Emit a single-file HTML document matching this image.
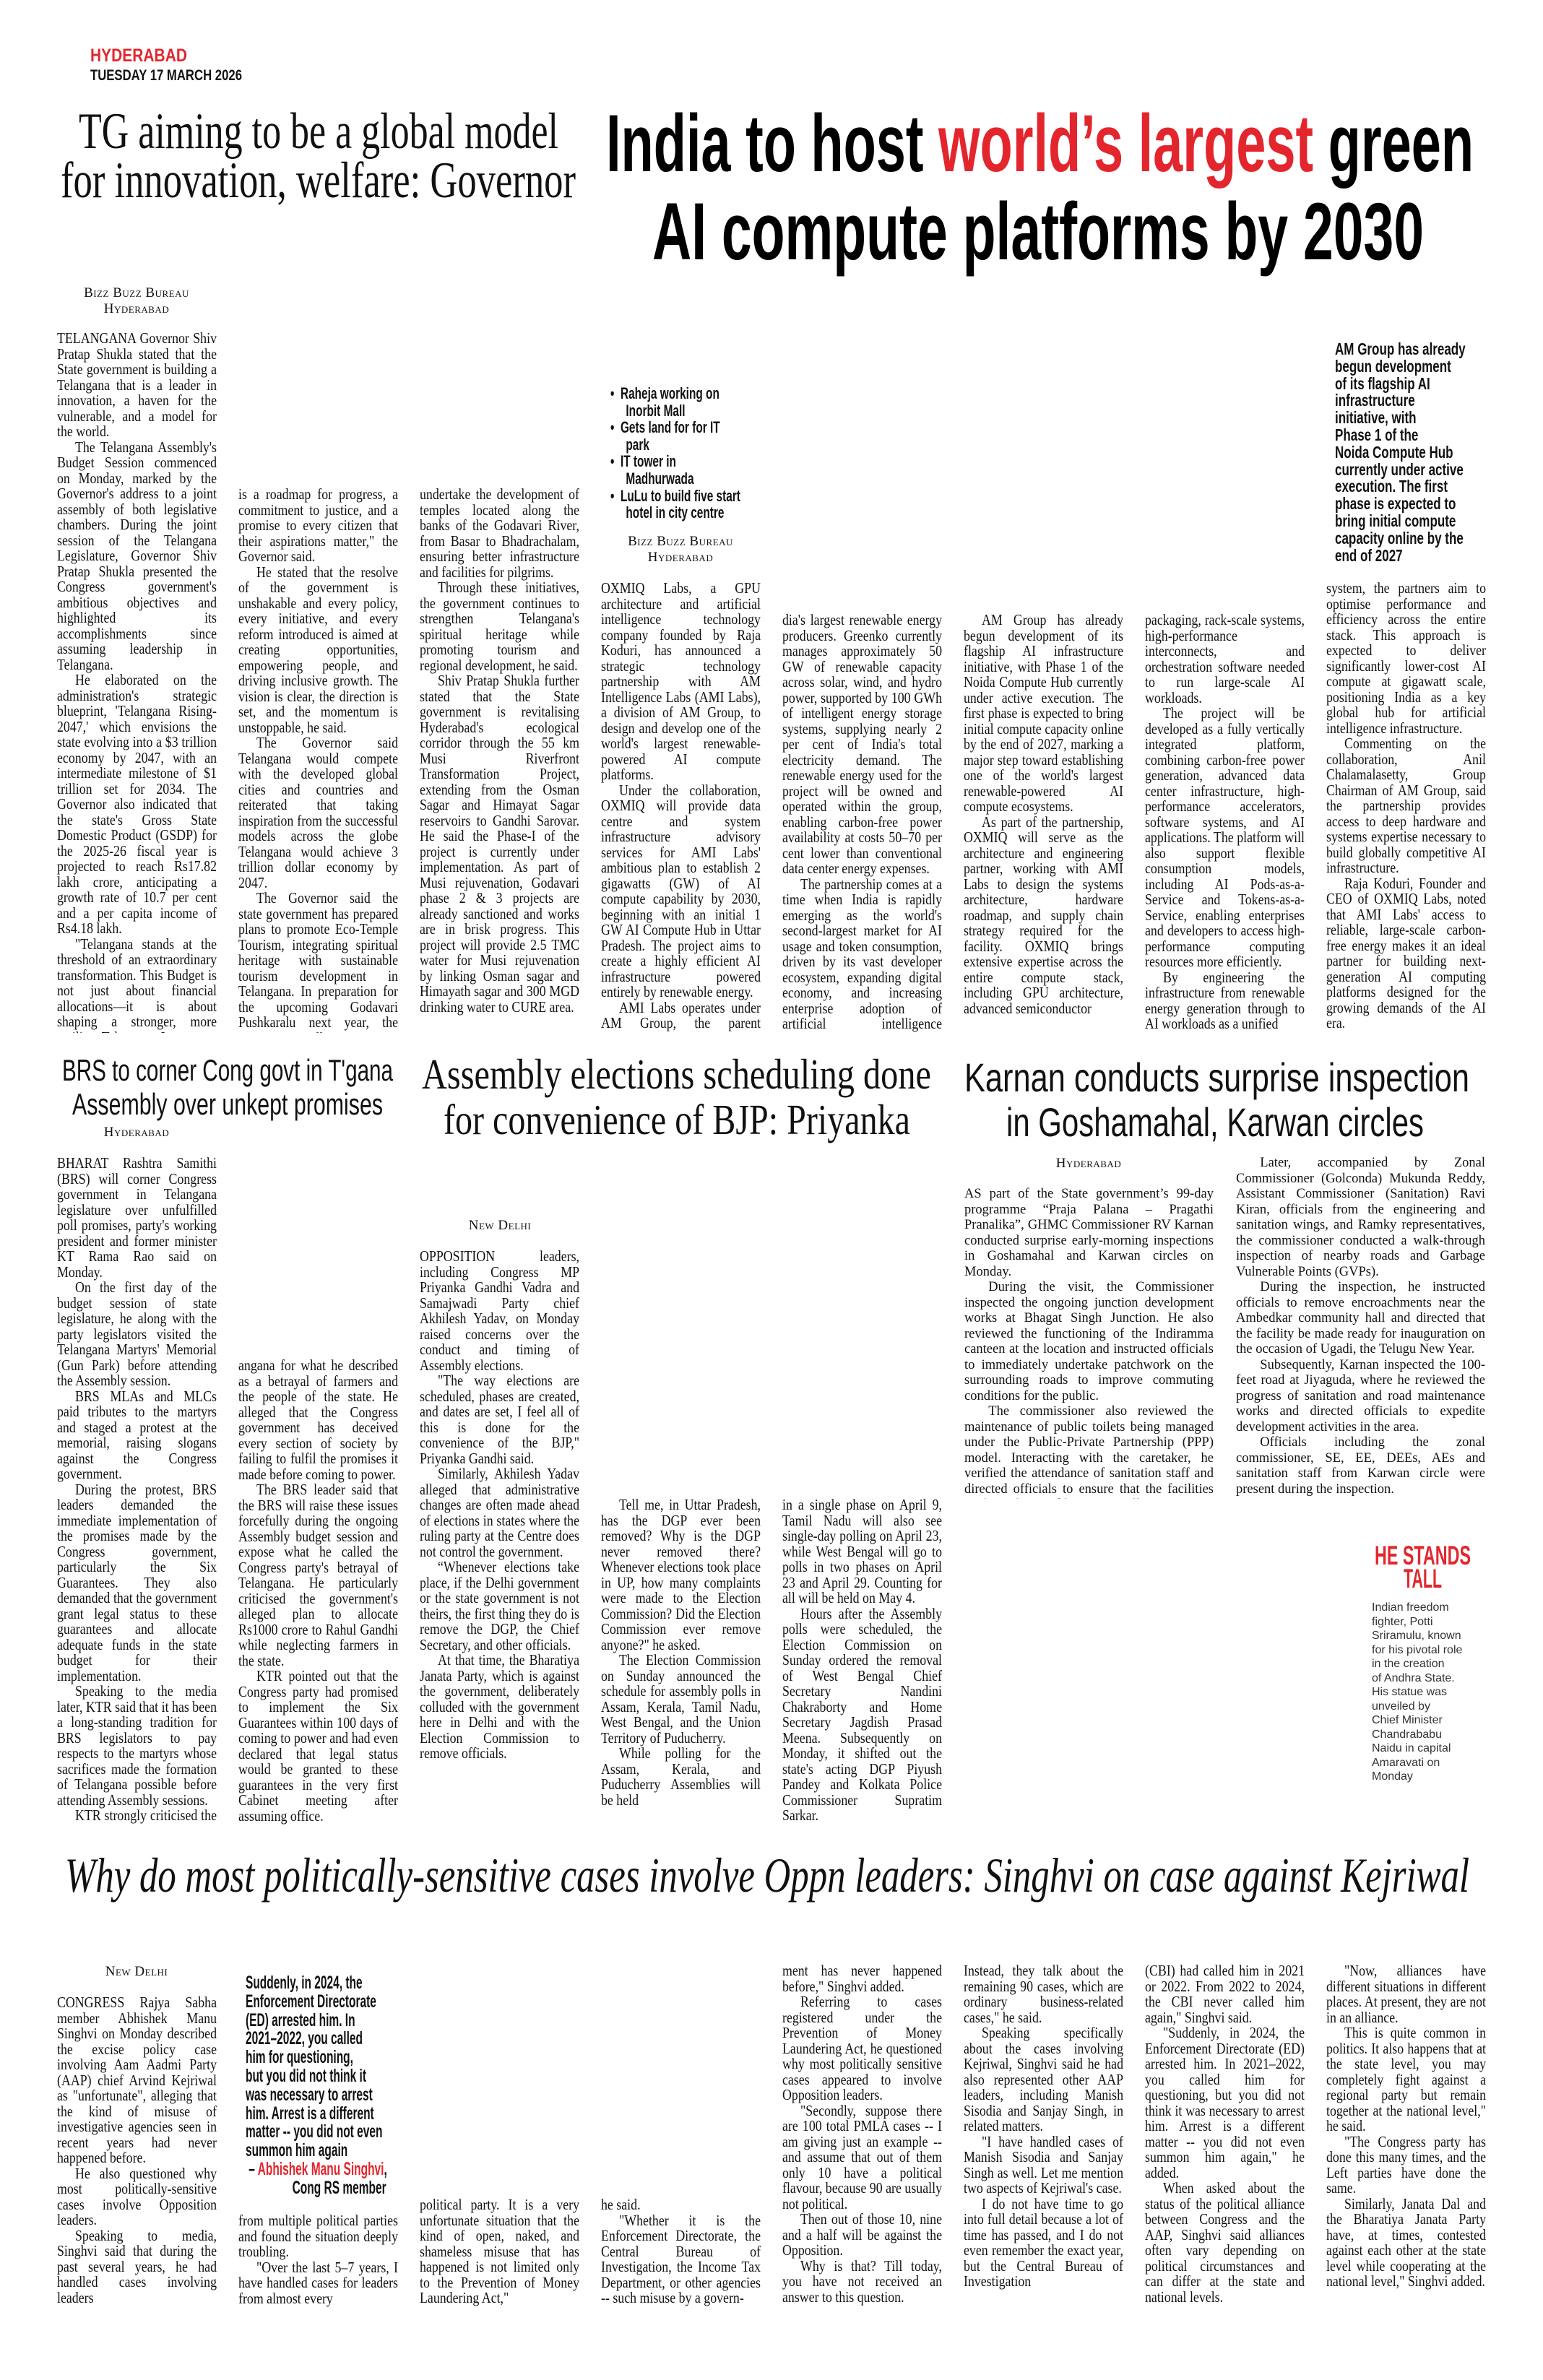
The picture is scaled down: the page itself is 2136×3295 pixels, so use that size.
<!DOCTYPE html>
<html lang="en"><head><meta charset="utf-8">
<style>
*{margin:0;padding:0;box-sizing:border-box}
body{width:2136px;height:3295px;background:#fff;position:relative;overflow:hidden;font-family:"Liberation Serif",serif;color:#111}
.c{position:absolute;width:260px;font-size:21px;line-height:21.5px;text-align:justify;hyphens:auto;overflow:hidden;transform:scaleX(.85);transform-origin:0 0}
.c p{text-indent:1.4em}
.c p.f{text-indent:0}
.k{position:absolute;width:345px;font-size:18.5px;line-height:21.5px;text-align:justify;hyphens:auto;overflow:hidden}
.k p{text-indent:1.8em}
.k p.f{text-indent:0}
.by{position:absolute;font-variant:small-caps;font-size:19px;line-height:22px;text-align:center;letter-spacing:.5px}
.cond{position:absolute;transform-origin:0 0;white-space:nowrap;font-family:"Liberation Sans",sans-serif;font-weight:bold}
svg{position:absolute;left:0;top:0}
</style></head><body>

<svg width="2136" height="3295">
<text x="125" y="85" font-family="Liberation Sans" font-weight="bold" font-size="25" fill="#e3262d" textLength="134" lengthAdjust="spacingAndGlyphs">HYDERABAD</text>
<text x="125" y="111" font-family="Liberation Sans" font-weight="bold" font-size="21" fill="#111" textLength="210" lengthAdjust="spacingAndGlyphs">TUESDAY 17  MARCH 2026</text>
<text x="109" y="205" font-family="Liberation Serif" font-size="71" fill="#111" textLength="664" lengthAdjust="spacingAndGlyphs">TG aiming to be a global model</text>
<text x="84" y="273" font-family="Liberation Serif" font-size="71" fill="#111" textLength="713" lengthAdjust="spacingAndGlyphs">for innovation, welfare: Governor</text>
<text x="839" y="237" font-family="Liberation Sans" font-weight="bold" font-size="112" fill="#000" textLength="1201" lengthAdjust="spacingAndGlyphs">India to host <tspan fill="#e3262d">world’s largest</tspan> green</text>
<text x="903" y="359" font-family="Liberation Sans" font-weight="bold" font-size="112" fill="#000" textLength="1068" lengthAdjust="spacingAndGlyphs">AI compute platforms by 2030</text>
<text x="86" y="1496" font-family="Liberation Sans" font-size="42" fill="#111" textLength="458" lengthAdjust="spacingAndGlyphs">BRS to corner Cong govt in T'gana</text>
<text x="100" y="1543" font-family="Liberation Sans" font-size="42" fill="#111" textLength="430" lengthAdjust="spacingAndGlyphs">Assembly over unkept promises</text>
<text x="584" y="1507" font-family="Liberation Serif" font-size="59" fill="#111" textLength="705" lengthAdjust="spacingAndGlyphs">Assembly elections scheduling done</text>
<text x="614" y="1570" font-family="Liberation Serif" font-size="59" fill="#111" textLength="646" lengthAdjust="spacingAndGlyphs">for convenience of BJP: Priyanka</text>
<text x="1335" y="1511" font-family="Liberation Sans" font-size="56" fill="#111" textLength="699" lengthAdjust="spacingAndGlyphs">Karnan conducts surprise inspection</text>
<text x="1393" y="1573" font-family="Liberation Sans" font-size="56" fill="#111" textLength="578" lengthAdjust="spacingAndGlyphs">in Goshamahal, Karwan circles</text>
<text x="1903" y="2166" font-family="Liberation Sans" font-weight="bold" font-size="37" fill="#e3262d" textLength="133" lengthAdjust="spacingAndGlyphs">HE STANDS</text>
<text x="1943" y="2198" font-family="Liberation Sans" font-weight="bold" font-size="37" fill="#e3262d" textLength="53" lengthAdjust="spacingAndGlyphs">TALL</text>
<text x="90" y="2619" font-family="Liberation Serif" font-style="italic" font-size="68" fill="#111" textLength="1944" lengthAdjust="spacingAndGlyphs">Why do most politically-sensitive cases involve Oppn leaders: Singhvi on case against Kejriwal</text>
</svg>

<div class="by" style="left:89px;top:395px;width:200px">Bizz Buzz Bureau<br>Hyderabad</div>
<div class="by" style="left:842px;top:739px;width:200px">Bizz Buzz Bureau<br>Hyderabad</div>
<div class="by" style="left:89px;top:1557px;width:200px">Hyderabad</div>
<div class="by" style="left:592px;top:1686px;width:200px">New Delhi</div>
<div class="by" style="left:1407px;top:1600px;width:200px">Hyderabad</div>
<div class="by" style="left:89px;top:2719px;width:200px">New Delhi</div>

<div class="cond" style="left:845px;top:533px;font-size:22px;line-height:23.6px;transform:scaleX(.7)">
•&nbsp;&nbsp;Raheja working on<br>&nbsp;&nbsp;&nbsp;&nbsp;&nbsp;Inorbit Mall<br>•&nbsp;&nbsp;Gets land for for IT<br>&nbsp;&nbsp;&nbsp;&nbsp;&nbsp;park<br>•&nbsp;&nbsp;IT tower in<br>&nbsp;&nbsp;&nbsp;&nbsp;&nbsp;Madhurwada<br>•&nbsp;&nbsp;LuLu to build five start<br>&nbsp;&nbsp;&nbsp;&nbsp;&nbsp;hotel in city centre</div>

<div class="cond" style="left:1848px;top:472px;font-size:23px;line-height:23.8px;transform:scaleX(.74)">
AM Group has already<br>begun development<br>of its flagship AI<br>infrastructure<br>initiative, with<br>Phase 1 of the<br>Noida Compute Hub<br>currently under active<br>execution. The first<br>phase is expected to<br>bring initial compute<br>capacity online by the<br>end of 2027</div>

<div class="c" style="left:79px;top:458px;height:972px">
<p class="f">TELANGANA Governor Shiv Pratap Shukla stated that the State government is building a Telangana that is a leader in innovation, a haven for the vulnerable, and a model for the world.</p>
<p>The Telangana Assembly's Budget Session commenced on Monday, marked by the Governor's address to a joint assembly of both legislative chambers. During the joint session of the Telangana Legislature, Governor Shiv Pratap Shukla presented the Congress government's ambitious objectives and highlighted its accomplishments since assuming leadership in Telangana.</p>
<p>He elaborated on the administration's strategic blueprint, 'Telangana Rising-2047,' which envisions the state evolving into a $3 trillion economy by 2047, with an intermediate milestone of $1 trillion set for 2034. The Governor also indicated that the state's Gross State Domestic Product (GSDP) for the 2025-26 fiscal year is projected to reach Rs17.82 lakh crore, anticipating a growth rate of 10.7 per cent and a per capita income of Rs4.18 lakh.</p>
<p>"Telangana stands at the threshold of an extraordinary transformation. This Budget is not just about financial allocations—it is about shaping a stronger, more resilient Telangana. It</p>
</div>
<div class="c" style="left:330px;top:674px;height:756px">
<p class="f">is a roadmap for progress, a commitment to justice, and a promise to every citizen that their aspirations matter," the Governor said.</p>
<p>He stated that the resolve of the government is unshakable and every policy, every initiative, and every reform introduced is aimed at creating opportunities, empowering people, and driving inclusive growth. The vision is clear, the direction is set, and the momentum is unstoppable, he said.</p>
<p>The Governor said Telangana would compete with the developed global cities and countries and reiterated that taking inspiration from the successful models across the globe Telangana would achieve 3 trillion dollar economy by 2047.</p>
<p>The Governor said the state government has prepared plans to promote Eco-Temple Tourism, integrating spiritual heritage with sustainable tourism development in Telangana. In preparation for the upcoming Godavari Pushkaralu next year, the government will</p>
</div>
<div class="c" style="left:581px;top:674px;height:756px">
<p class="f">undertake the development of temples located along the banks of the Godavari River, from Basar to Bhadrachalam, ensuring better infrastructure and facilities for pilgrims.</p>
<p>Through these initiatives, the government continues to strengthen Telangana's spiritual heritage while promoting tourism and regional development, he said.</p>
<p>Shiv Pratap Shukla further stated that the State government is revitalising Hyderabad's ecological corridor through the 55 km Musi Riverfront Transformation Project, extending from the Osman Sagar and Himayat Sagar reservoirs to Gandhi Sarovar. He said the Phase-I of the project is currently under implementation. As part of Musi rejuvenation, Godavari phase 2 &amp; 3 projects are already sanctioned and works are in brisk progress. This project will provide 2.5 TMC water for Musi rejuvenation by linking Osman sagar and Himayath sagar and 300 MGD drinking water to CURE area.</p>
</div>

<div class="c" style="left:832px;top:804px;height:626px">
<p class="f">OXMIQ Labs, a GPU architecture and artificial intelligence technology company founded by Raja Koduri, has announced a strategic technology partnership with AM Intelligence Labs (AMI Labs), a division of AM Group, to design and develop one of the world's largest renewable-powered AI compute platforms.</p>
<p>Under the collaboration, OXMIQ will provide data centre and system infrastructure advisory services for AMI Labs' ambitious plan to establish 2 gigawatts (GW) of AI compute capability by 2030, beginning with an initial 1 GW AI Compute Hub in Uttar Pradesh. The project aims to create a highly efficient AI infrastructure powered entirely by renewable energy.</p>
<p>AMI Labs operates under AM Group, the parent company of Greenko, one of In-</p>
</div>
<div class="c" style="left:1083px;top:848px;height:582px">
<p class="f">dia's largest renewable energy producers. Greenko currently manages approximately 50 GW of renewable capacity across solar, wind, and hydro power, supported by 100 GWh of intelligent energy storage systems, supplying nearly 2 per cent of India's total electricity demand. The renewable energy used for the project will be owned and operated within the group, enabling carbon-free power availability at costs 50–70 per cent lower than conventional data center energy expenses.</p>
<p>The partnership comes at a time when India is rapidly emerging as the world's second-largest market for AI usage and token consumption, driven by its vast developer ecosystem, expanding digital economy, and increasing enterprise adoption of artificial intelligence technologies.</p>
</div>
<div class="c" style="left:1334px;top:848px;height:582px">
<p>AM Group has already begun development of its flagship AI infrastructure initiative, with Phase 1 of the Noida Compute Hub currently under active execution. The first phase is expected to bring initial compute capacity online by the end of 2027, marking a major step toward establishing one of the world's largest renewable-powered AI compute ecosystems.</p>
<p>As part of the partnership, OXMIQ will serve as the architecture and engineering partner, working with AMI Labs to design the systems architecture, hardware roadmap, and supply chain strategy required for the facility. OXMIQ brings extensive expertise across the entire compute stack, including GPU architecture, advanced semiconductor</p>
</div>
<div class="c" style="left:1585px;top:848px;height:582px">
<p class="f">packaging, rack-scale systems, high-performance interconnects, and orchestration software needed to run large-scale AI workloads.</p>
<p>The project will be developed as a fully vertically integrated platform, combining carbon-free power generation, advanced data center infrastructure, high-performance accelerators, software systems, and AI applications. The platform will also support flexible consumption models, including AI Pods-as-a-Service and Tokens-as-a-Service, enabling enterprises and developers to access high-performance computing resources more efficiently.</p>
<p>By engineering the infrastructure from renewable energy generation through to AI workloads as a unified</p>
</div>
<div class="c" style="left:1836px;top:804px;height:626px">
<p class="f">system, the partners aim to optimise performance and efficiency across the entire stack. This approach is expected to deliver significantly lower-cost AI compute at gigawatt scale, positioning India as a key global hub for artificial intelligence infrastructure.</p>
<p>Commenting on the collaboration, Anil Chalamalasetty, Group Chairman of AM Group, said the partnership provides access to deep hardware and systems expertise necessary to build globally competitive AI infrastructure.</p>
<p>Raja Koduri, Founder and CEO of OXMIQ Labs, noted that AMI Labs' access to reliable, large-scale carbon-free energy makes it an ideal partner for building next-generation AI computing platforms designed for the growing demands of the AI era.</p>
</div>

<div class="c" style="left:79px;top:1600px;height:927px">
<p class="f">BHARAT Rashtra Samithi (BRS) will corner Congress government in Telangana legislature over unfulfilled poll promises, party's working president and former minister KT Rama Rao said on Monday.</p>
<p>On the first day of the budget session of state legislature, he along with the party legislators visited the Telangana Martyrs' Memorial (Gun Park) before attending the Assembly session.</p>
<p>BRS MLAs and MLCs paid tributes to the martyrs and staged a protest at the memorial, raising slogans against the Congress government.</p>
<p>During the protest, BRS leaders demanded the immediate implementation of the promises made by the Congress government, particularly the Six Guarantees. They also demanded that the government grant legal status to these guarantees and allocate adequate funds in the state budget for their implementation.</p>
<p>Speaking to the media later, KTR said that it has been a long-standing tradition for BRS legislators to pay respects to the martyrs whose sacrifices made the formation of Telangana possible before attending Assembly sessions.</p>
<p>KTR strongly criticised the Congress government in Tel-</p>
</div>
<div class="c" style="left:330px;top:1880px;height:647px">
<p class="f">angana for what he described as a betrayal of farmers and the people of the state. He alleged that the Congress government has deceived every section of society by failing to fulfil the promises it made before coming to power.</p>
<p>The BRS leader said that the BRS will raise these issues forcefully during the ongoing Assembly budget session and expose what he called the Congress party's betrayal of Telangana. He particularly criticised the government's alleged plan to allocate Rs1000 crore to Rahul Gandhi while neglecting farmers in the state.</p>
<p>KTR pointed out that the Congress party had promised to implement the Six Guarantees within 100 days of coming to power and had even declared that legal status would be granted to these guarantees in the very first Cabinet meeting after assuming office.</p>
</div>

<div class="c" style="left:581px;top:1729px;height:798px">
<p class="f">OPPOSITION leaders, including Congress MP Priyanka Gandhi Vadra and Samajwadi Party chief Akhilesh Yadav, on Monday raised concerns over the conduct and timing of Assembly elections.</p>
<p>"The way elections are scheduled, phases are created, and dates are set, I feel all of this is done for the convenience of the BJP," Priyanka Gandhi said.</p>
<p>Similarly, Akhilesh Yadav alleged that administrative changes are often made ahead of elections in states where the ruling party at the Centre does not control the government.</p>
<p>“Whenever elections take place, if the Delhi government or the state government is not theirs, the first thing they do is remove the DGP, the Chief Secretary, and other officials.</p>
<p>At that time, the Bharatiya Janata Party, which is against the government, deliberately colluded with the government here in Delhi and with the Election Commission to remove officials.</p>
</div>
<div class="c" style="left:832px;top:2073px;height:454px">
<p>Tell me, in Uttar Pradesh, has the DGP ever been removed? Why is the DGP never removed there? Whenever elections took place in UP, how many complaints were made to the Election Commission? Did the Election Commission ever remove anyone?" he asked.</p>
<p>The Election Commission on Sunday announced the schedule for assembly polls in Assam, Kerala, Tamil Nadu, West Bengal, and the Union Territory of Puducherry.</p>
<p>While polling for the Assam, Kerala, and Puducherry Assemblies will be held</p>
</div>
<div class="c" style="left:1083px;top:2073px;height:454px">
<p class="f">in a single phase on April 9, Tamil Nadu will also see single-day polling on April 23, while West Bengal will go to polls in two phases on April 23 and April 29. Counting for all will be held on May 4.</p>
<p>Hours after the Assembly polls were scheduled, the Election Commission on Sunday ordered the removal of West Bengal Chief Secretary Nandini Chakraborty and Home Secretary Jagdish Prasad Meena. Subsequently on Monday, it shifted out the state's acting DGP Piyush Pandey and Kolkata Police Commissioner Supratim Sarkar.</p>
</div>

<div class="k" style="left:1335px;top:1643px;height:432px">
<p class="f">AS part of the State government’s 99-day programme “Praja Palana – Pragathi Pranalika”, GHMC Commissioner RV Karnan conducted surprise early-morning inspections in Goshamahal and Karwan circles on Monday.</p>
<p>During the visit, the Commissioner inspected the ongoing junction development works at Bhagat Singh Junction. He also reviewed the functioning of the Indiramma canteen at the location and instructed officials to immediately undertake patchwork on the surrounding roads to improve commuting conditions for the public.</p>
<p>The commissioner also reviewed the maintenance of public toilets being managed under the Public-Private Partnership (PPP) model. Interacting with the caretaker, he verified the attendance of sanitation staff and directed officials to ensure that the facilities are kept clean and hygienic at all times.</p>
</div>
<div class="k" style="left:1711px;top:1600px;height:475px">
<p>Later, accompanied by Zonal Commissioner (Golconda) Mukunda Reddy, Assistant Commissioner (Sanitation) Ravi Kiran, officials from the engineering and sanitation wings, and Ramky representatives, the commissioner conducted a walk-through inspection of nearby roads and Garbage Vulnerable Points (GVPs).</p>
<p>During the inspection, he instructed officials to remove encroachments near the Ambedkar community hall and directed that the facility be made ready for inauguration on the occasion of Ugadi, the Telugu New Year.</p>
<p>Subsequently, Karnan inspected the 100-feet road at Jiyaguda, where he reviewed the progress of sanitation and road maintenance works and directed officials to expedite development activities in the area.</p>
<p>Officials including the zonal commissioner, SE, EE, DEEs, AEs and sanitation staff from Karwan circle were present during the inspection.</p>
</div>
<div style="position:absolute;left:1899px;top:2216px;width:160px;font-family:'Liberation Sans',sans-serif;font-size:16px;line-height:19.5px;color:#333">Indian freedom<br>fighter, Potti<br>Sriramulu, known<br>for his pivotal role<br>in the creation<br>of Andhra State.<br>His statue was<br>unveiled by<br>Chief Minister<br>Chandrababu<br>Naidu in capital<br>Amaravati on<br>Monday</div>

<div class="cond" style="left:340px;top:2733px;font-size:25px;line-height:25.8px;transform:scaleX(.62)">
Suddenly, in 2024, the<br>Enforcement Directorate<br>(ED) arrested him. In<br>2021–2022, you called<br>him for questioning,<br>but you did not think it<br>was necessary to arrest<br>him. Arrest is a different<br>matter -- you did not even<br>summon him again<br>&nbsp;– <span style="color:#e3262d">Abhishek Manu Singhvi</span>,<br>&nbsp;&nbsp;&nbsp;&nbsp;&nbsp;&nbsp;&nbsp;&nbsp;&nbsp;&nbsp;&nbsp;&nbsp;&nbsp;&nbsp;&nbsp;Cong RS member</div>

<div class="c" style="left:79px;top:2762px;height:432px">
<p class="f">CONGRESS Rajya Sabha member Abhishek Manu Singhvi on Monday described the excise policy case involving Aam Aadmi Party (AAP) chief Arvind Kejriwal as "unfortunate", alleging that the kind of misuse of investigative agencies seen in recent years had never happened before.</p>
<p>He also questioned why most politically-sensitive cases involve Opposition leaders.</p>
<p>Speaking to media, Singhvi said that during the past several years, he had handled cases involving leaders</p>
</div>
<div class="c" style="left:330px;top:3064px;height:130px">
<p class="f">from multiple political parties and found the situation deeply troubling.</p>
<p>"Over the last 5–7 years, I have handled cases for leaders from almost every</p>
</div>
<div class="c" style="left:581px;top:3042px;height:152px">
<p class="f">political party. It is a very unfortunate situation that the kind of open, naked, and shameless misuse that has happened is not limited only to the Prevention of Money Laundering Act,"</p>
</div>
<div class="c" style="left:832px;top:3042px;height:152px">
<p class="f">he said.</p>
<p>"Whether it is the Enforcement Directorate, the Central Bureau of Investigation, the Income Tax Department, or other agencies -- such misuse by a govern-</p>
</div>
<div class="c" style="left:1083px;top:2718px;height:476px">
<p class="f">ment has never happened before," Singhvi added.</p>
<p>Referring to cases registered under the Prevention of Money Laundering Act, he questioned why most politically sensitive cases appeared to involve Opposition leaders.</p>
<p>"Secondly, suppose there are 100 total PMLA cases -- I am giving just an example -- and assume that out of them only 10 have a political flavour, because 90 are usually not political.</p>
<p>Then out of those 10, nine and a half will be against the Opposition.</p>
<p>Why is that? Till today, you have not received an answer to this question.</p>
</div>
<div class="c" style="left:1334px;top:2718px;height:476px">
<p class="f">Instead, they talk about the remaining 90 cases, which are ordinary business-related cases," he said.</p>
<p>Speaking specifically about the cases involving Kejriwal, Singhvi said he had also represented other AAP leaders, including Manish Sisodia and Sanjay Singh, in related matters.</p>
<p>"I have handled cases of Manish Sisodia and Sanjay Singh as well. Let me mention two aspects of Kejriwal's case.</p>
<p>I do not have time to go into full detail because a lot of time has passed, and I do not even remember the exact year, but the Central Bureau of Investigation</p>
</div>
<div class="c" style="left:1585px;top:2718px;height:476px">
<p class="f">(CBI) had called him in 2021 or 2022. From 2022 to 2024, the CBI never called him again," Singhvi said.</p>
<p>"Suddenly, in 2024, the Enforcement Directorate (ED) arrested him. In 2021–2022, you called him for questioning, but you did not think it was necessary to arrest him. Arrest is a different matter -- you did not even summon him again," he added.</p>
<p>When asked about the status of the political alliance between Congress and the AAP, Singhvi said alliances often vary depending on political circumstances and can differ at the state and national levels.</p>
</div>
<div class="c" style="left:1836px;top:2718px;height:476px">
<p>"Now, alliances have different situations in different places. At present, they are not in an alliance.</p>
<p>This is quite common in politics. It also happens that at the state level, you may completely fight against a regional party but remain together at the national level," he said.</p>
<p>"The Congress party has done this many times, and the Left parties have done the same.</p>
<p>Similarly, Janata Dal and the Bharatiya Janata Party have, at times, contested against each other at the state level while cooperating at the national level," Singhvi added.</p>
</div>
</body></html>
